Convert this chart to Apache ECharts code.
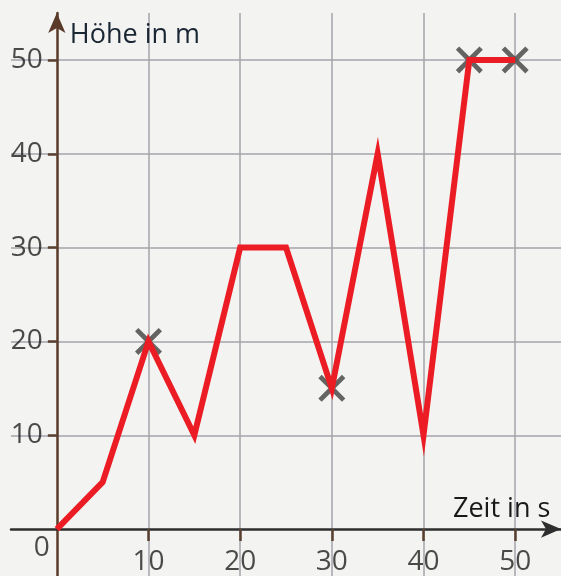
<!DOCTYPE html>
<html>
<head>
<meta charset="utf-8">
<script src="https://cdn.jsdelivr.net/npm/echarts@6/dist/echarts.min.js"></script>
<style>
  html, body { margin: 0; padding: 0; background: #f3f3f1; }
  #chart { width: 561px; height: 576px; }
</style>
</head>
<body>
<div id="chart"></div>
<script>
// Zeit (s) und Höhe (m)
var zeit = [0, 5, 10, 15, 20, 25, 30, 35, 40, 45, 50]
var hoehe = [0, 5, 20, 10, 30, 30, 15, 40, 10, 50, 50]
// markierte Punkte (Kreuze)
var kreuzZeit = [10, 30, 45, 50]
var kreuzHoehe = [20, 15, 50, 50]
var xTicks = [10, 20, 30, 40, 50]
var yTicks = [10, 20, 30, 40, 50]

var linie = zeit.map(function (t, i) { return [t, hoehe[i]] })
var kreuze = kreuzZeit.map(function (t, i) { return [t, kreuzHoehe[i]] })

var chart = echarts.init(document.getElementById('chart'))
var font = 'Open Sans'
var gridLine = { show: true, lineStyle: { color: '#a4a5aa', width: 1.5 } }
var labelText = { fontFamily: font, fontSize: 28, color: '#1e1e1e' }

// Achsenbeschriftung als Text an den Achsenwerten (axisLabel wird bei diesem Raster ausgeblendet)
function tickLabels (points, label) {
  return {
    type: 'scatter',
    data: points,
    symbolSize: 0,
    silent: true,
    z: 4,
    label: Object.assign({ show: true }, labelText, label)
  }
}

chart.setOption({
  backgroundColor: '#f3f3f1',
  animation: false,
  grid: { left: 11, top: 13, width: 552, height: 564 },
  xAxis: {
    type: 'value',
    min: -5,
    max: 55,
    interval: 5,
    name: 'Zeit in s',
    nameLocation: 'end',
    nameGap: -108,
    nameTextStyle: {
      fontFamily: font, fontSize: 27, color: '#1a1a1a',
      align: 'left', verticalAlign: 'bottom', padding: [0, 0, 6, 0]
    },
    axisLine: {
      onZero: true,
      symbol: ['none', 'arrow'],
      symbolSize: [13, 20],
      lineStyle: { color: '#2e2e2e', width: 2.5 }
    },
    axisTick: {
      show: true, inside: false, length: 12, customValues: xTicks,
      lineStyle: { color: '#5a4030', width: 2.5 }
    },
    axisLabel: { show: false },
    splitLine: gridLine
  },
  yAxis: {
    type: 'value',
    min: -5,
    max: 55,
    interval: 5,
    name: 'Höhe in m',
    nameLocation: 'end',
    nameGap: -22,
    nameTextStyle: {
      fontFamily: font, fontSize: 27, color: '#1a2633',
      align: 'left', verticalAlign: 'middle', padding: [0, 0, 0, 13]
    },
    axisLine: {
      onZero: true,
      symbol: ['none', 'arrow'],
      symbolSize: [13, 20],
      lineStyle: { color: '#5a3a28', width: 2.5 }
    },
    axisTick: {
      show: true, inside: false, length: 9, customValues: yTicks,
      lineStyle: { color: '#5a4030', width: 2.5 }
    },
    axisLabel: { show: false },
    splitLine: gridLine
  },
  series: [
    {
      type: 'scatter',
      data: kreuze,
      z: 1,
      symbol: 'path://M2.5,0 L10,7.5 L17.5,0 L20,2.5 L12.5,10 L20,17.5 L17.5,20 L10,12.5 L2.5,20 L0,17.5 L7.5,10 L0,2.5 Z',
      symbolSize: 27,
      itemStyle: { color: '#404040' }
    },
    {
      type: 'line',
      data: linie,
      z: 3,
      symbol: 'none',
      lineStyle: { color: '#ec1c24', width: 6, join: 'miter' }
    },
    tickLabels(xTicks.map(function (v) { return [v, 0] }), {
      position: 'bottom', distance: 19,
      formatter: function (p) { return String(p.value[0]) }
    }),
    tickLabels(yTicks.map(function (v) { return [0, v] }), {
      position: 'left', distance: 14,
      formatter: function (p) { return String(p.value[1]) }
    }),
    tickLabels([[0, 0]], {
      position: 'left', distance: 7, offset: [0, 19],
      formatter: '0'
    })
  ]
})
</script>
</body>
</html>
